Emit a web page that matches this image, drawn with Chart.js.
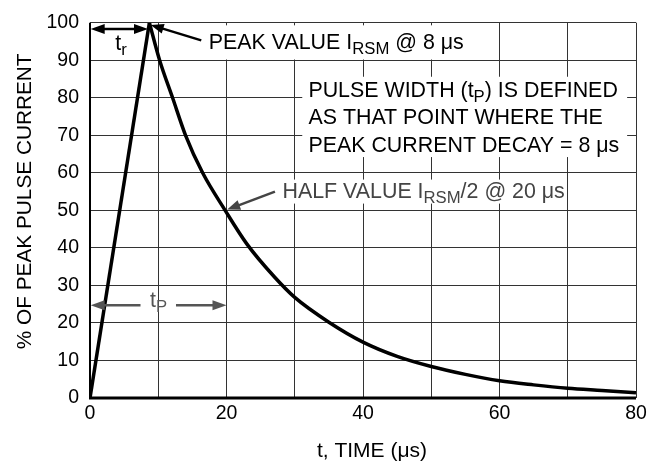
<!DOCTYPE html>
<html><head><meta charset="utf-8">
<script src="https://cdn.jsdelivr.net/npm/chart.js@4/dist/chart.umd.min.js"></script>
<style>html,body{margin:0;padding:0;background:#fff}#wrap{width:662px;height:470px}</style>
</head><body><div id="wrap"><canvas id="c" width="662" height="470"></canvas></div>
<script>
// Data
const riseTime = [0, 8.7];
const risePct = [0, 100];
const decayTime = [8.7, 10.2, 12.1, 14.0, 16.5, 19.8, 23, 27, 30, 35, 40, 45, 50, 55, 60, 65, 70, 75, 80];
const decayPct = [100, 90, 80, 70, 60, 50, 41, 32.3, 26.8, 20.2, 14.9, 11.1, 8.4, 6.3, 4.6, 3.5, 2.6, 2.0, 1.4];
const xTickLabels = [0, 20, 40, 60, 80];
const yTickLabels = [0, 10, 20, 30, 40, 50, 60, 70, 80, 90, 100];
const xTitle = 't, TIME (μs)';
const yTitle = '% OF PEAK PULSE CURRENT';

const FONT = "'Liberation Sans', Arial, sans-serif";

function richText(ctx, parts, x, y, size) {
  let cx = x;
  for (const p of parts) {
    const s = p.sub ? size * 0.78 : size;
    ctx.font = s + 'px ' + FONT;
    ctx.fillText(p.t, cx, y + (p.sub ? size * 0.3 : 0));
    cx += ctx.measureText(p.t).width;
  }
  return cx;
}
function arrowHead(ctx, x1, y1, x2, y2, len, wid) {
  const a = Math.atan2(y2 - y1, x2 - x1);
  ctx.beginPath();
  ctx.moveTo(x2, y2);
  ctx.lineTo(x2 - len * Math.cos(a) + wid * Math.sin(a), y2 - len * Math.sin(a) - wid * Math.cos(a));
  ctx.lineTo(x2 - len * Math.cos(a) - wid * Math.sin(a), y2 - len * Math.sin(a) + wid * Math.cos(a));
  ctx.closePath();
  ctx.fill();
}
function arrow(ctx, x1, y1, x2, y2, color, lw) {
  ctx.strokeStyle = color; ctx.fillStyle = color; ctx.lineWidth = lw;
  const a = Math.atan2(y2 - y1, x2 - x1);
  ctx.beginPath(); ctx.moveTo(x1, y1); ctx.lineTo(x2 - 10 * Math.cos(a), y2 - 10 * Math.sin(a)); ctx.stroke();
  arrowHead(ctx, x1, y1, x2, y2, 13, 5);
}

const annot = {
  id: 'annot',
  afterDatasetsDraw(chart) {
    const ctx = chart.ctx, xs = chart.scales.x, ys = chart.scales.y;
    const X = v => xs.getPixelForValue(v), Y = v => ys.getPixelForValue(v);
    const fs = 21.4;
    ctx.save();
    ctx.textBaseline = 'middle';
    // white boxes behind labels
    ctx.fillStyle = '#fff';
    ctx.fillRect(X(16.0), Y(99.3), X(55.4) - X(16.0), Y(90.2) - Y(99.3));
    ctx.fillRect(X(31.1), Y(85.6), X(78.7) - X(31.1), Y(64.2) - Y(85.6));
    ctx.fillRect(X(27.8), Y(58.2), X(69.6) - X(27.8), Y(51.8) - Y(58.2));
    ctx.fillStyle = '#000';
    richText(ctx, [{t:'PEAK VALUE I'},{t:'RSM',sub:true},{t:' @ 8 μs'}], X(17.4), Y(94.6), fs);
    richText(ctx, [{t:'PULSE WIDTH (t'},{t:'P',sub:true},{t:') IS DEFINED'}], X(32.0), Y(81.7), fs);
    richText(ctx, [{t:'AS THAT POINT WHERE THE'}], X(32.0), Y(74.5), fs);
    richText(ctx, [{t:'PEAK CURRENT DECAY = 8 μs'}], X(32.0), Y(67.2), fs);
    ctx.fillStyle = '#444';
    richText(ctx, [{t:'HALF VALUE I'},{t:'RSM',sub:true},{t:'/2 @ 20 μs'}], X(28.2), Y(54.9), fs);
    // arrows
    arrow(ctx, X(16.3), Y(95.3), X(8.9), Y(99.4), '#000', 2.5);
    arrow(ctx, X(27.1), Y(55.0), X(20.1), Y(50.2), '#444', 2.5);
    // t_r dimension
    ctx.strokeStyle = '#000'; ctx.fillStyle = '#000'; ctx.lineWidth = 2.5;
    ctx.beginPath(); ctx.moveTo(X(0) + 8, Y(98.3)); ctx.lineTo(X(8.5) - 8, Y(98.3)); ctx.stroke();
    arrowHead(ctx, X(4), Y(98.3), X(0.1), Y(98.3), 14, 5);
    arrowHead(ctx, X(4), Y(98.3), X(8.5), Y(98.3), 14, 5);
    richText(ctx, [{t:'t'},{t:'r',sub:true}], X(3.7), Y(94.2), fs);
    // t_P dimension
    ctx.strokeStyle = '#555'; ctx.fillStyle = '#555';
    ctx.beginPath(); ctx.moveTo(X(0) + 8, Y(24.7)); ctx.lineTo(X(7.4), Y(24.7)); ctx.stroke();
    ctx.beginPath(); ctx.moveTo(X(12.6), Y(24.7)); ctx.lineTo(X(20) - 8, Y(24.7)); ctx.stroke();
    arrowHead(ctx, X(5), Y(24.7), X(0.1), Y(24.7), 14, 5);
    arrowHead(ctx, X(15), Y(24.7), X(20), Y(24.7), 14, 5);
    richText(ctx, [{t:'t'},{t:'P',sub:true}], X(8.8), Y(25.8), fs);
    // axes
    ctx.strokeStyle = '#000';
    ctx.lineWidth = 3;
    ctx.beginPath(); ctx.moveTo(X(0) - 1, Y(0)); ctx.lineTo(X(80), Y(0)); ctx.stroke();
    ctx.lineWidth = 2;
    ctx.beginPath(); ctx.moveTo(X(0), Y(0)); ctx.lineTo(X(0), Y(100)); ctx.stroke();
    // axis titles
    ctx.fillStyle = '#000';
    ctx.textAlign = 'center';
    ctx.font = '21px ' + FONT;
    ctx.fillText(xTitle, (X(0) + X(80)) / 2 + 9, 451);
    ctx.translate(25, (Y(0) + Y(100)) / 2 - 9);
    ctx.rotate(-Math.PI / 2);
    ctx.font = '20.8px ' + FONT;
    ctx.fillText(yTitle, 0, 0);
    ctx.restore();
  }
};

new Chart(document.getElementById('c'), {
  type: 'line',
  data: {
    datasets: [
      { data: riseTime.map((t, i) => ({x: t, y: risePct[i]})), borderColor: '#000', borderWidth: 3.5, pointRadius: 0, tension: 0, fill: false },
      { data: decayTime.map((t, i) => ({x: t, y: decayPct[i]})), borderColor: '#000', borderWidth: 3.5, pointRadius: 0, cubicInterpolationMode: 'monotone', fill: false }
    ]
  },
  options: {
    responsive: false, animation: false,
    layout: { padding: { top: 15, right: 26, bottom: 0, left: 0 } },
    plugins: { legend: { display: false }, tooltip: { enabled: false } },
    scales: {
      x: {
        type: 'linear', min: 0, max: 80,
        afterBuildTicks: s => { s.ticks = [0,10,20,30,40,50,60,70,80].map(v => ({value: v})); },
        ticks: { callback: v => xTickLabels.includes(v) ? String(v) : '', font: { family: FONT, size: 19.5 }, color: '#000', padding: 4, maxRotation: 0, autoSkip: false },
        grid: { color: '#333', lineWidth: 1, drawTicks: false },
        border: { display: false },
        afterFit: s => { s.height = 72; }
      },
      y: {
        min: 0, max: 100,
        afterBuildTicks: s => { s.ticks = yTickLabels.map(v => ({value: v})); },
        ticks: { font: { family: FONT, size: 19.5 }, color: '#000', padding: 11, autoSkip: false },
        grid: { color: '#333', lineWidth: 1, drawTicks: false },
        border: { display: false },
        afterFit: s => { s.width = 90; }
      }
    }
  },
  plugins: [annot]
});
</script></body></html>
